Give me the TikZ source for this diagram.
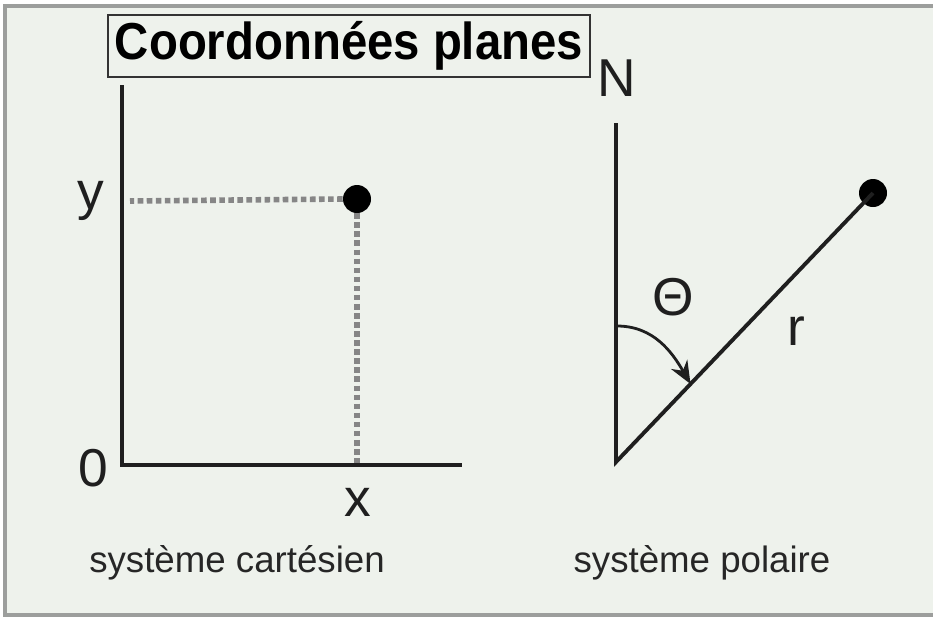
\documentclass[tikz,border=0pt]{standalone}
\usepackage{fontspec}
\usepackage{graphicx}
\setmainfont{Liberation Sans}
\usetikzlibrary{arrows.meta,calc}
\definecolor{fond}{HTML}{EEF2EC}
\definecolor{cadre}{HTML}{9C9E9C}
\begin{document}
\begin{tikzpicture}[x=0.75pt,y=-0.75pt,
  axe/.style={line width=2.9pt, black!88},
  pointille/.style={line width=4.2pt, gray!95, dash pattern=on 4.2pt off 2.6pt},
  etiq/.style={font=\fontsize{40}{40}\selectfont, text=black!88, inner sep=0pt},
  legende/.style={font=\fontsize{27.5}{30}\selectfont, text=black!85, inner sep=0pt},
  point/.style={circle, fill=black, inner sep=0pt, minimum size=21pt}]
\useasboundingbox (0,0) rectangle (933,619);
% Fond et cadre
\fill[white] (0,0) rectangle (933,619);
\fill[fond] (5,6) rectangle (933,615);
\draw[cadre, line width=2.5pt] (933,6) -- (5,6) -- (5,615) -- (933,615);

% Titre
\node[draw=black!80, line width=1.4pt, font=\bfseries\fontsize{39}{39}\selectfont,
  inner sep=0pt, minimum width=362pt, minimum height=47pt] (titre) at (349,46)
  {\scalebox{0.91}[1]{Coordonnées planes}};

% Systeme cartesien
\coordinate (O) at (122,465);
\coordinate (haut) at (122,85);
\coordinate (droite) at (462,465);
\draw[axe] (haut) -- (O) -- (droite);
\node[point] (P) at (357,199) {};
\coordinate (Py) at (130,201);
\coordinate (Px) at (357,463);
\draw[pointille] (P.west) -- (Py);
\draw[pointille] (P.south) -- (Px);
\node[etiq] (ly) at (91,201) {y};
\node[etiq] (lzero) at (93,468) {0};
\node[etiq] (lx) at (358,502) {x};
\node[legende] (cart) at (237,563) {système cartésien};

% Systeme polaire
\coordinate (A) at (616,462);
\coordinate (Nord) at (616,123);
\node[point] (Q) at (873,193) {};
\draw[axe] (Nord) -- (A) -- (Q.center);
\coordinate (a1) at (617,326);
\coordinate (a2) at ($(A)!0.29!(Q)$);
\draw[line width=2.1pt, black!88, -{Stealth[length=17pt,width=14pt]}] (a1) to[out=0, in=120] (a2);
\node[etiq] (lN) at (617,78) {N};
\node[etiq] (ltheta) at (673,297) {Θ};
\node[etiq] (lr) at (796,331) {r};
\node[legende] (pol) at (702,563) {système polaire};
\end{tikzpicture}
\end{document}
